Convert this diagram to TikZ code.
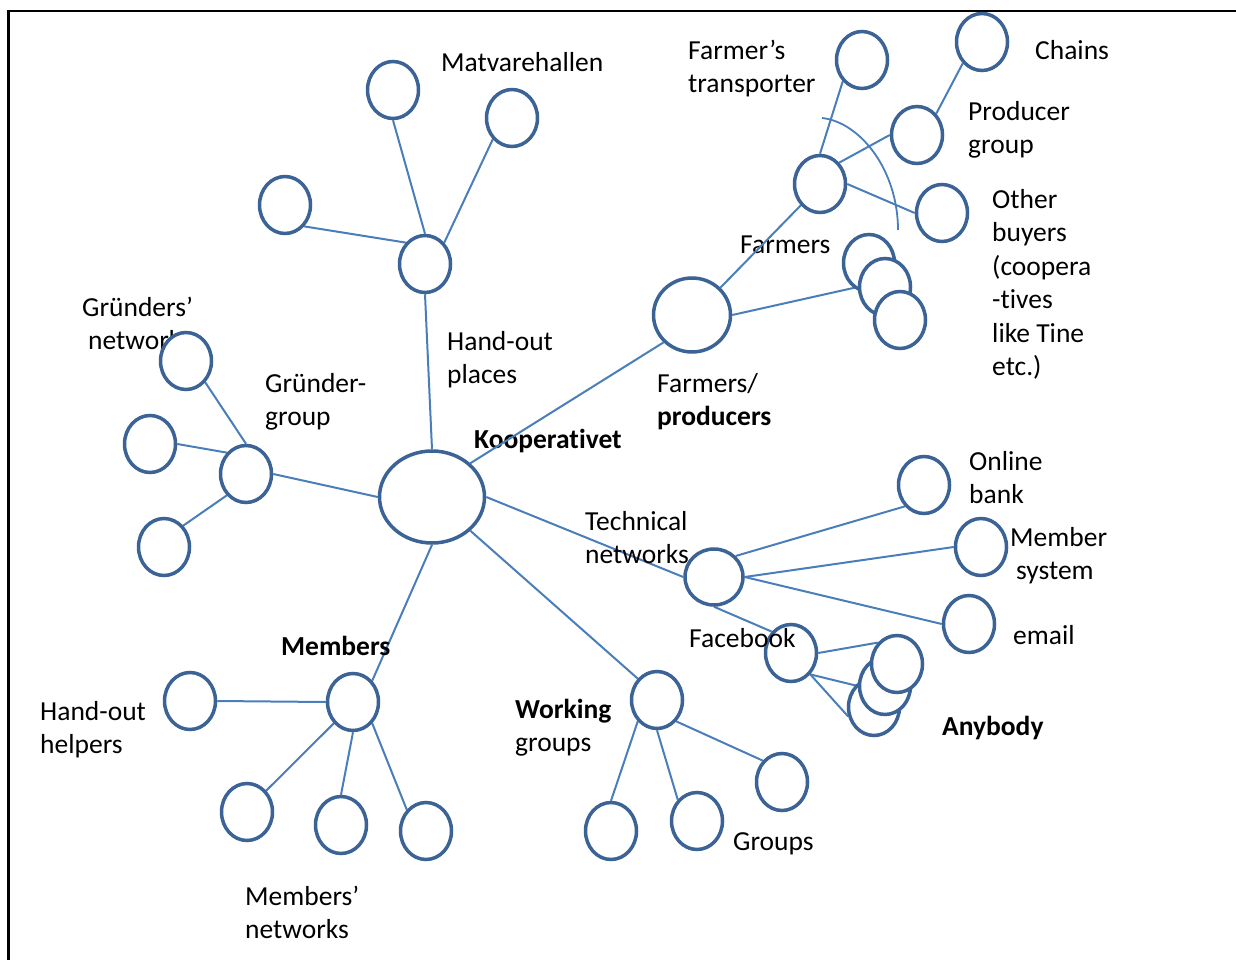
\documentclass[tikz,border=0pt]{standalone}
\usepackage{fontspec}
\setmainfont[Ligatures={NoCommon,NoRare}]{Carlito}
\usetikzlibrary{shapes.geometric}
\pgfdeclarelayer{under}
\pgfdeclarelayer{links}
\pgfsetlayers{under,links,main}
\definecolor{ringblue}{RGB}{59,99,150}
\definecolor{linkblue}{RGB}{74,126,187}
\newcommand\lblfont{\fontsize{27.5}{33.5}\selectfont}

\begin{document}
\begin{tikzpicture}[x=1pt,y=-1pt,
  ring/.style={ellipse, draw=ringblue, line width=3.5pt, fill=white, inner sep=0pt,
               minimum width=51pt, minimum height=57pt},
  link/.style={draw=linkblue, line width=2pt},
  lbl/.style={anchor=north west, inner sep=0pt, align=left, font=\lblfont, text=black}]

\useasboundingbox (0,0) rectangle (1236,960);

% frame
\draw[line width=2.5pt, line join=miter] (8.5,960) -- (8.5,11) -- (1236,11);

% labels lying under connectors and circles
\begin{pgfonlayer}{under}
  \node[lbl] (tGnet) at (82,292.5) {\strut Gründers’\\\strut\hspace*{6pt}networks};
  \node[lbl] (tKoop) at (474,424.5) {\strut\bfseries Kooperativet};
  \node[lbl] (tFarmers) at (740,229.5) {\strut Farmers};
\end{pgfonlayer}

% hub
\node[ring, minimum width=105pt, minimum height=92pt] (K) at (432,497) {};

% hand-out places branch
\node[ring] (HP) at (425,264) {};
\node[ring] (M1) at (393,90) {};
\node[ring] (M2) at (512,118) {};
\node[ring] (M3) at (285,205) {};

% gruender group branch
\node[ring] (GG) at (246,474) {};
\node[ring] (G1) at (186,361) {};
\node[ring] (G2) at (150,444) {};
\node[ring] (G3) at (164,547) {};

% farmers / producers branch
\node[ring, minimum width=77pt, minimum height=74pt] (FP) at (692,315) {};
\node[ring] (FA) at (820,184) {};
\node[ring] (T)  at (862,60) {};
\node[ring] (PG) at (917,135) {};
\node[ring] (CH) at (982,42) {};
\node[ring] (OB) at (942,213) {};
\node[ring] (S1) at (869,263) {};
\node[ring] (S2) at (885,287) {};
\node[ring] (S3) at (900,320) {};

% technical networks branch
\node[ring, minimum width=58pt, minimum height=56pt] (TN) at (714,577) {};
\node[ring] (OL) at (924,485) {};
\node[ring] (MS) at (981,547) {};
\node[ring] (EM) at (969,624) {};
\node[ring] (FB) at (791,653) {};
\node[ring] (A3) at (874,707) {};
\node[ring] (A2) at (885,686) {};
\node[ring] (A1) at (897,664) {};

% working groups branch
\node[ring] (WG) at (657,700) {};
\node[ring] (W1) at (611,831) {};
\node[ring] (W2) at (697,821) {};
\node[ring] (W3) at (782,782) {};

% members branch
\node[ring] (MB) at (353,702) {};
\node[ring] (H)  at (190,701) {};
\node[ring] (N1) at (247,812) {};
\node[ring] (N2) at (341,825) {};
\node[ring] (N3) at (426,831) {};

% arc across the farmers' links
\coordinate (arcA) at (822,118);
\coordinate (arcB) at (898,230);

\begin{pgfonlayer}{links}
  \draw[link] (K.north) -- (HP.south);
  \draw[link] (HP.north) -- (M1.south);
  \draw[link] (HP.north east) -- (M2.south west);
  \draw[link] (HP.north west) -- (M3.south east);

  \draw[link] (K.west) -- (GG.east);
  \draw[link] (GG.north) -- (G1.south east);
  \draw[link] (GG.north west) -- (G2.east);
  \draw[link] (GG.south west) -- (G3.north east);

  \draw[link] (K.north east) -- (FP.south west);
  \draw[link] (FP.north east) -- (FA.south west);
  \draw[link] (FP.east) -- (S2.west);
  \draw[link] (FA.north) -- (T.south west);
  \draw[link] (FA.north east) -- (PG.west);
  \draw[link] (FA.east) -- (OB.west);
  \draw[link] (PG.north east) -- (CH.south west);

  \draw[link] (K.east) -- (TN.west);
  \draw[link] (TN.north east) -- (OL.south west);
  \draw[link] (TN.east) -- (MS.west);
  \draw[link] (TN.east) -- (EM.west);
  \draw[link] (TN.south) -- (FB.north west);
  \draw[link] (FB.east) -- (A1.north west);
  \draw[link] (FB.south east) -- (A2.west);
  \draw[link] (FB.south east) -- (A3.200);

  \draw[link] (K.south east) -- (WG.north west);
  \draw[link] (WG.south west) -- (W1.north);
  \draw[link] (WG.south) -- (W2.north west);
  \draw[link] (WG.south east) -- (W3.north west);

  \draw[link] (K.south) -- (MB.north east);
  \draw[link] (MB.west) -- (H.east);
  \draw[link] (MB.south west) -- (N1.north east);
  \draw[link] (MB.south) -- (N2.north);
  \draw[link] (MB.south east) -- (N3.north west);
\end{pgfonlayer}

\draw[draw=linkblue, line width=1.8pt] (arcA) .. controls (860,122) and (898,170) .. (arcB);

% labels
\node[lbl] (tMat)   at (441,47.5)  {\strut Matvarehallen};
\node[lbl] (tTrans) at (688,35.5)  {\strut Farmer’s\\\strut transporter};
\node[lbl] (tChain) at (1035,35.5) {\strut Chains};
\node[lbl] (tProd)  at (968,96.5)  {\strut Producer\\\strut group};
\node[lbl] (tOther) at (992,184.5) {\strut Other\\\strut buyers\\\strut (coopera\\\strut -tives\\\strut like Tine\\\strut etc.)};
\node[lbl] (tHP)    at (447,326.5) {\strut Hand-out\\\strut places};
\node[lbl] (tGG)    at (265,368.5) {\strut Gründer-\\\strut group};
\node[lbl] (tFP)    at (657,368.5) {\strut Farmers/\\\strut\bfseries producers};
\node[lbl] (tOL)    at (969,446.5) {\strut Online\\\strut bank};
\node[lbl] (tTN)    at (585,506.5) {\strut Technical\\\strut networks};
\node[lbl] (tMS)    at (1010,522.5) {\strut Member\\\strut\hspace*{6pt}system};
\node[lbl] (tEM)    at (1013,620.5) {\strut email};
\node[lbl] (tFB)    at (689,623.5) {\strut Facebook};
\node[lbl] (tMB)    at (281,631.5) {\strut\bfseries Members};
\node[lbl] (tWG)    at (515,694.5) {\strut\bfseries Working\\\strut groups};
\node[lbl] (tAny)   at (942,711.5) {\strut\bfseries Anybody};
\node[lbl] (tHH)    at (40,696.5)  {\strut Hand-out\\\strut helpers};
\node[lbl] (tGr)    at (733,826.5) {\strut Groups};
\node[lbl] (tMN)    at (245,881.5) {\strut Members’\\\strut networks};

\end{tikzpicture}
\end{document}
